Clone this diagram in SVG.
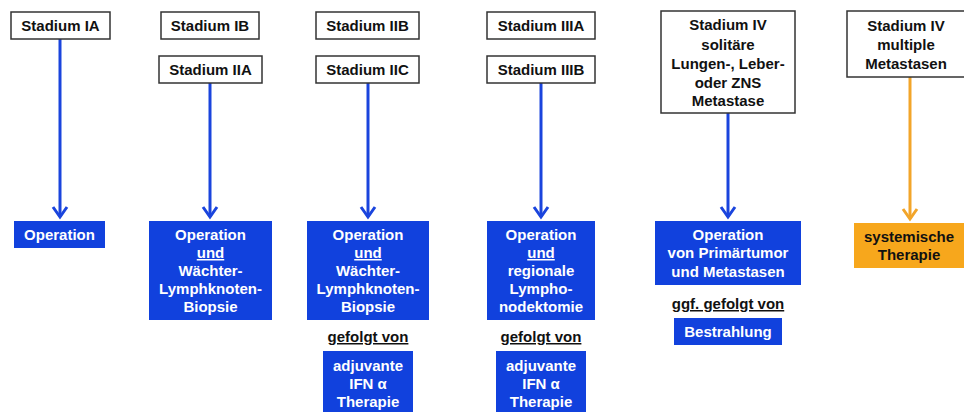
<svg xmlns="http://www.w3.org/2000/svg" width="964" height="412" viewBox="0 0 964 412">
<defs>
<style>
text{font-family:"Liberation Sans",Arial,sans-serif;font-weight:bold;font-size:15px;text-anchor:middle}
.w{fill:#fff;stroke:#333;stroke-width:1.5}
.b{fill:#1141dd}
.o{fill:#f7a71c}
.bt{fill:#fff}
.dt{fill:#111}
.u{text-decoration:underline}
.cb{stroke:#1a44dd;stroke-width:3;fill:none}
.co{stroke:#f2a52a;stroke-width:3;fill:none}
.hb{stroke:#1a44dd;stroke-width:3;fill:none;stroke-linejoin:miter}
.ho{stroke:#f2a52a;stroke-width:3;fill:none;stroke-linejoin:miter}
</style>
</defs>
<rect width="964" height="412" fill="#fff"/>
<g id="connectors">
<path class="cb" d="M60,39 V217"/><path class="hb" d="M53,207 L60,217 L67,207"/>
<path class="cb" d="M210,83 V217"/><path class="hb" d="M203,207 L210,217 L217,207"/>
<path class="cb" d="M368,83 V217"/><path class="hb" d="M361,207 L368,217 L375,207"/>
<path class="cb" d="M541,83 V217"/><path class="hb" d="M534,207 L541,217 L548,207"/>
<path class="cb" d="M728,113 V217"/><path class="hb" d="M721,207 L728,217 L735,207"/>
<path class="co" d="M910,77 V219"/><path class="ho" d="M903,209 L910,219 L917,209"/>
</g>
<g id="s-ia"><rect class="w" x="11" y="12" width="99" height="27"/><text class="dt" x="60.5" y="31">Stadium IA</text></g>
<g id="s-ib"><rect class="w" x="161" y="12" width="98" height="27"/><text class="dt" x="210" y="31">Stadium IB</text></g>
<g id="s-iia"><rect class="w" x="159" y="56" width="103" height="27"/><text class="dt" x="210.5" y="75">Stadium IIA</text></g>
<g id="s-iib"><rect class="w" x="316" y="12" width="103" height="27"/><text class="dt" x="367.5" y="31">Stadium IIB</text></g>
<g id="s-iic"><rect class="w" x="316" y="56" width="103" height="27"/><text class="dt" x="367.5" y="75">Stadium IIC</text></g>
<g id="s-iiia"><rect class="w" x="487" y="12" width="108" height="27"/><text class="dt" x="541" y="31">Stadium IIIA</text></g>
<g id="s-iiib"><rect class="w" x="487" y="56" width="108" height="27"/><text class="dt" x="541" y="75">Stadium IIIB</text></g>
<g id="s-iv1"><rect class="w" x="661" y="11" width="134" height="102"/>
<text class="dt" x="728" y="30">Stadium IV</text><text class="dt" x="728" y="50">solitäre</text><text class="dt" x="728" y="69">Lungen-, Leber-</text><text class="dt" x="728" y="88">oder ZNS</text><text class="dt" x="728" y="106">Metastase</text></g>
<g id="s-iv2"><rect class="w" x="847" y="11" width="118" height="66"/>
<text class="dt" x="906" y="31">Stadium IV</text><text class="dt" x="906" y="50">multiple</text><text class="dt" x="906" y="69">Metastasen</text></g>
<g id="op1"><rect class="b" x="14" y="221" width="91" height="27"/><text class="bt" x="59.5" y="240">Operation</text></g>
<g id="op2"><rect class="b" x="149" y="221" width="123" height="99"/>
<text class="bt" x="210.5" y="240">Operation</text><text class="bt u" x="210.5" y="258">und</text><text class="bt" x="210.5" y="276">Wächter-</text><text class="bt" x="210.5" y="294">Lymphknoten-</text><text class="bt" x="210.5" y="312">Biopsie</text></g>
<g id="op3"><rect class="b" x="307" y="221" width="122" height="99"/>
<text class="bt" x="368" y="240">Operation</text><text class="bt u" x="368" y="258">und</text><text class="bt" x="368" y="276">Wächter-</text><text class="bt" x="368" y="294">Lymphknoten-</text><text class="bt" x="368" y="312">Biopsie</text></g>
<g id="op4"><rect class="b" x="487" y="221" width="108" height="99"/>
<text class="bt" x="541" y="240">Operation</text><text class="bt u" x="541" y="258">und</text><text class="bt" x="541" y="276">regionale</text><text class="bt" x="541" y="294">Lympho-</text><text class="bt" x="541" y="312">nodektomie</text></g>
<g id="g1"><text class="dt u" x="368" y="342">gefolgt von</text></g>
<g id="g2"><text class="dt u" x="541" y="342">gefolgt von</text></g>
<g id="adj1"><rect class="b" x="323" y="351" width="90" height="65"/>
<text class="bt" x="368" y="371">adjuvante</text><text class="bt" x="368" y="389">IFN α</text><text class="bt" x="368" y="407">Therapie</text></g>
<g id="adj2"><rect class="b" x="496" y="351" width="90" height="65"/>
<text class="bt" x="541" y="371">adjuvante</text><text class="bt" x="541" y="389">IFN α</text><text class="bt" x="541" y="407">Therapie</text></g>
<g id="op5"><rect class="b" x="655" y="221" width="146" height="64"/>
<text class="bt" x="728" y="240">Operation</text><text class="bt" x="728" y="258">von Primärtumor</text><text class="bt" x="728" y="277">und Metastasen</text></g>
<g id="g3"><text class="dt u" x="728" y="309">ggf. gefolgt von</text></g>
<g id="bes"><rect class="b" x="674" y="318" width="108" height="27"/><text class="bt" x="728" y="337">Bestrahlung</text></g>
<g id="sys"><rect class="o" x="854" y="223" width="112" height="45"/>
<text class="dt" x="909" y="242">systemische</text><text class="dt" x="909" y="260">Therapie</text></g>
</svg>
